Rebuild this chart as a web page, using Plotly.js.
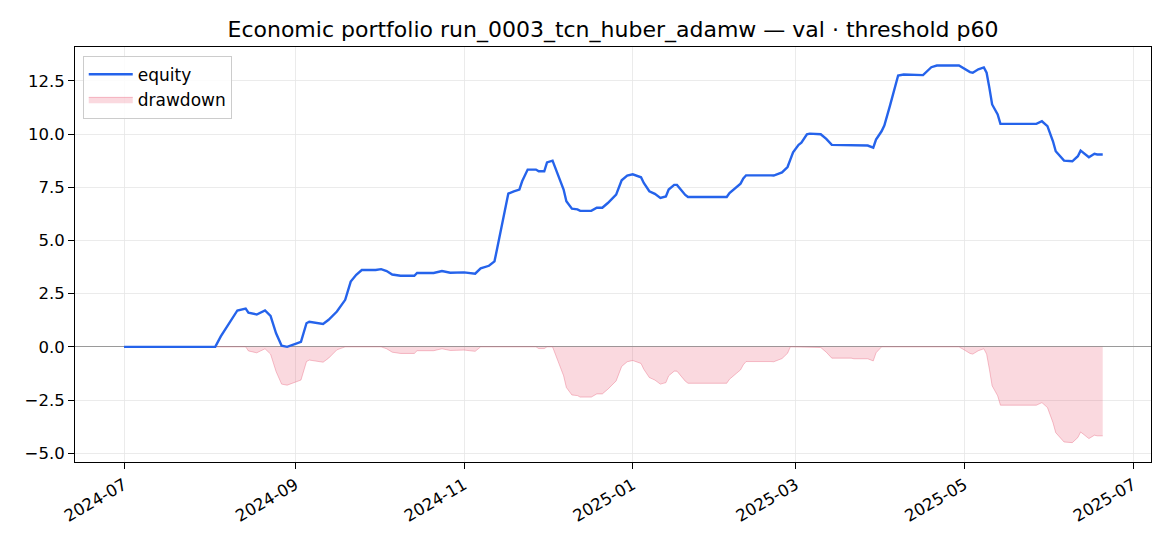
<!DOCTYPE html>
<html>
<head>
<meta charset="utf-8">
<script src="https://cdn.plot.ly/plotly-3.0.1.min.js"></script>
<style>
  html, body { margin: 0; padding: 0; background: #fff; }
  #chart { width: 1170px; height: 546px; }
</style>
</head>
<body>
<div id="chart"></div>
<script>
// Equity curve
const dates = [
    '2024-07-01', '2024-08-03', '2024-08-05', '2024-08-08', '2024-08-09', '2024-08-11',
    '2024-08-14', '2024-08-15', '2024-08-18', '2024-08-21', '2024-08-23', '2024-08-25',
    '2024-08-27', '2024-08-29', '2024-09-01', '2024-09-03', '2024-09-05', '2024-09-06',
    '2024-09-11', '2024-09-13', '2024-09-16', '2024-09-19', '2024-09-21', '2024-09-23',
    '2024-09-25', '2024-09-30', '2024-10-02', '2024-10-04', '2024-10-06', '2024-10-09',
    '2024-10-14', '2024-10-15', '2024-10-21', '2024-10-24', '2024-10-27', '2024-11-01',
    '2024-11-05', '2024-11-07', '2024-11-10', '2024-11-12', '2024-11-13', '2024-11-15',
    '2024-11-16', '2024-11-17', '2024-11-19', '2024-11-21', '2024-11-22', '2024-11-24',
    '2024-11-27', '2024-11-28', '2024-11-30', '2024-12-01', '2024-12-03', '2024-12-04',
    '2024-12-07', '2024-12-08', '2024-12-10', '2024-12-12', '2024-12-13', '2024-12-17',
    '2024-12-19', '2024-12-21', '2024-12-23', '2024-12-26', '2024-12-28', '2024-12-30',
    '2025-01-01', '2025-01-04', '2025-01-05', '2025-01-07', '2025-01-09', '2025-01-11',
    '2025-01-13', '2025-01-14', '2025-01-16', '2025-01-17', '2025-01-20', '2025-01-21',
    '2025-02-04', '2025-02-05', '2025-02-07', '2025-02-09', '2025-02-10', '2025-02-11',
    '2025-02-20', '2025-02-21', '2025-02-24', '2025-02-26', '2025-02-27', '2025-02-28',
    '2025-03-02', '2025-03-03', '2025-03-05', '2025-03-06', '2025-03-10', '2025-03-12',
    '2025-03-14', '2025-03-21', '2025-03-22', '2025-03-27', '2025-03-29', '2025-03-30',
    '2025-04-01', '2025-04-02', '2025-04-04', '2025-04-06', '2025-04-07', '2025-04-09',
    '2025-04-16', '2025-04-19', '2025-04-21', '2025-04-29', '2025-05-01', '2025-05-03',
    '2025-05-04', '2025-05-06', '2025-05-08', '2025-05-09', '2025-05-10', '2025-05-11',
    '2025-05-13', '2025-05-14', '2025-05-27', '2025-05-29', '2025-05-31', '2025-06-02',
    '2025-06-03', '2025-06-06', '2025-06-09', '2025-06-11', '2025-06-12', '2025-06-15',
    '2025-06-17', '2025-06-18', '2025-06-20'
];

const equity = [
    0.00, 0.00, 0.49, 1.11, 1.35, 1.71,
    1.80, 1.61, 1.52, 1.71, 1.46, 0.64,
    0.05, 0.00, 0.14, 0.24, 1.11, 1.18,
    1.08, 1.27, 1.66, 2.21, 3.07, 3.39,
    3.61, 3.61, 3.65, 3.56, 3.40, 3.34,
    3.34, 3.47, 3.47, 3.56, 3.48, 3.50,
    3.44, 3.69, 3.81, 4.02, 4.64, 5.90,
    6.68, 7.20, 7.31, 7.39, 7.78, 8.33,
    8.33, 8.25, 8.25, 8.67, 8.75, 8.41,
    7.39, 6.84, 6.49, 6.46, 6.39, 6.39,
    6.54, 6.54, 6.76, 7.15, 7.83, 8.05,
    8.11, 7.97, 7.70, 7.31, 7.19, 7.00,
    7.07, 7.39, 7.61, 7.61, 7.14, 7.04,
    7.04, 7.23, 7.47, 7.67, 7.91, 8.06,
    8.06, 8.05, 8.20, 8.45, 8.80, 9.14,
    9.49, 9.59, 9.99, 10.02, 9.99, 9.77,
    9.49, 9.49, 9.46, 9.46, 9.36, 9.74,
    10.13, 10.40, 11.31, 12.25, 12.75, 12.80,
    12.77, 13.14, 13.22, 13.22, 13.07, 12.91,
    12.88, 13.04, 13.13, 12.88, 12.17, 11.39,
    10.92, 10.48, 10.48, 10.60, 10.37, 9.66,
    9.19, 8.75, 8.72, 8.96, 9.22, 8.91,
    9.07, 9.04, 9.04
];

// Drawdown is equity minus its running peak
let peak = -Infinity;
const drawdown = equity.map(function (v) {
    peak = Math.max(peak, v);
    return v - peak;
});

const yTicks = [-5.0, -2.5, 0.0, 2.5, 5.0, 7.5, 10.0, 12.5];
const xTicks = ['2024-07-01', '2024-09-01', '2024-11-01', '2025-01-01',
    '2025-03-01', '2025-05-01', '2025-07-01'];
const xTickText = ['2024-07', '2024-09', '2024-11', '2025-01', '2025-03', '2025-05', '2025-07'];

const chartTitle = 'Economic portfolio run_0003_tcn_huber_adamw — val · threshold p60';

const ddTrace = {
    x: dates,
    y: drawdown,
    type: 'scatter',
    mode: 'lines',
    name: 'drawdown',
    fill: 'tozeroy',
    fillcolor: 'rgba(230,80,110,0.22)',
    line: {color: 'rgba(230,80,110,0.35)', width: 1},
    legendrank: 2
};

const equityTrace = {
    x: dates,
    y: equity,
    type: 'scatter',
    mode: 'lines',
    name: 'equity',
    line: {color: '#2563eb', width: 2.4},
    legendrank: 1
};

const axisCommon = {
    showline: true,
    mirror: true,
    linecolor: '#000',
    linewidth: 1,
    ticks: 'outside',
    ticklen: 6,
    tickwidth: 1,
    tickcolor: '#000',
    showgrid: true,
    gridcolor: '#e6e6e6',
    gridwidth: 0.8,
    tickfont: {family: 'DejaVu Sans', size: 16.5, color: '#000'}
};

const layout = {
    width: 1170,
    height: 546,
    paper_bgcolor: '#fff',
    plot_bgcolor: '#fff',
    margin: {l: 75, r: 19, t: 47, b: 84},
    title: {
        text: chartTitle,
        font: {family: 'DejaVu Sans', size: 22, color: '#000'},
        x: 0.5,
        xref: 'paper',
        y: 1 - 29 / 546,
        yref: 'container',
        yanchor: 'middle'
    },
    xaxis: Object.assign({}, axisCommon, {
        type: 'date',
        range: ['2024-06-13 06:30', '2025-07-07 11:00'],
        tickvals: xTicks,
        ticktext: xTickText,
        tickangle: -30,
        zeroline: false
    }),
    yaxis: Object.assign({}, axisCommon, {
        range: [-5.41, 14.09],
        tickvals: yTicks,
        ticktext: yTicks.map(function (v) { return (v < 0 ? '\u2212' : '') + Math.abs(v).toFixed(1); }),
        zeroline: true,
        zerolinecolor: '#9a9a9a',
        zerolinewidth: 1
    }),
    showlegend: true,
    legend: {
        x: 0.0072,
        y: 0.979,
        xanchor: 'left',
        yanchor: 'top',
        bgcolor: 'rgba(255,255,255,0.85)',
        bordercolor: '#cccccc',
        borderwidth: 1,
        itemwidth: 44,
        font: {family: 'DejaVu Sans', size: 17, color: '#000'}
    }
};

Plotly.newPlot('chart', [ddTrace, equityTrace], layout, {displayModeBar: false, staticPlot: true});
</script>
</body>
</html>
